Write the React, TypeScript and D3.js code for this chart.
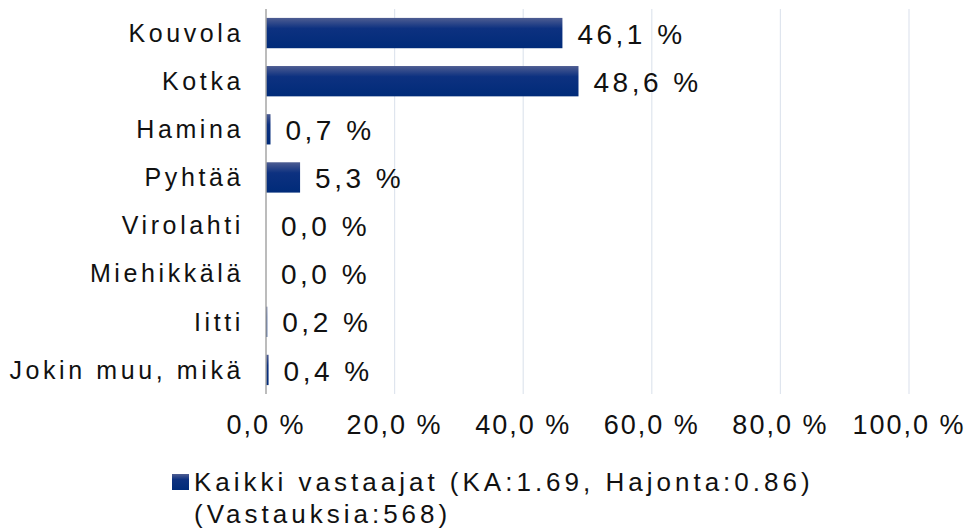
import { useEffect, useRef } from 'react';
import * as d3 from 'd3';

const categories = [
  "Kouvola", "Kotka", "Hamina", "Pyhtää", "Virolahti", "Miehikkälä", "Iitti", "Jokin muu, mikä"
];
const values = [46.1, 48.6, 0.7, 5.3, 0.0, 0.0, 0.2, 0.4];
const ticks = [0, 20, 40, 60, 80, 100];
const legendLines = ["Kaikki vastaajat (KA:1.69, Hajonta:0.86)", "(Vastauksia:568)"];

const fmt = (v: number) => v.toFixed(1).replace(".", ",") + " %";

const App = () => {
  const svgRef = useRef<SVGSVGElement>(null);

  useEffect(() => {
    const svg = d3.select(svgRef.current);
    svg.selectAll("*").remove();

    const width = 967;
    const margin = { top: 9, bottom: 136, left: 266, right: 58 };
    const height = 530;
    const font = "'Liberation Sans', Arial, sans-serif";

    const x = d3.scaleLinear().domain([0, 100]).range([margin.left, width - margin.right]);
    const y = d3.scaleBand()
      .domain(categories)
      .range([margin.top, height - margin.bottom])
      .paddingInner(0.37)
      .paddingOuter(0.185);

    const defs = svg.append("defs");
    const grad = defs.append("linearGradient")
      .attr("id", "barGrad")
      .attr("x1", 0).attr("y1", 0).attr("x2", 0).attr("y2", 1);
    grad.append("stop").attr("offset", "0%").attr("stop-color", "#4e5d92");
    grad.append("stop").attr("offset", "35%").attr("stop-color", "#0d3180");
    grad.append("stop").attr("offset", "100%").attr("stop-color", "#002b79");

    // grid
    svg.append("g")
      .selectAll("line")
      .data(ticks.slice(1))
      .join("line")
      .attr("x1", d => x(d)).attr("x2", d => x(d))
      .attr("y1", margin.top).attr("y2", height - margin.bottom)
      .attr("stroke", "#dfe5ee")
      .attr("stroke-width", 1.2);

    // bars
    svg.append("g")
      .selectAll("rect")
      .data(values)
      .join("rect")
      .attr("x", x(0))
      .attr("y", (d, i) => y(categories[i])!)
      .attr("width", d => x(d) - x(0))
      .attr("height", y.bandwidth())
      .attr("fill", "url(#barGrad)");

    // axis line
    svg.append("line")
      .attr("x1", x(0)).attr("x2", x(0))
      .attr("y1", margin.top).attr("y2", height - margin.bottom)
      .attr("stroke", "#a6a6a6")
      .attr("stroke-width", 1.5);

    // category labels
    svg.append("g")
      .selectAll("text")
      .data(categories)
      .join("text")
      .attr("x", x(0) - 22)
      .attr("y", d => y(d)! + y.bandwidth() / 2)
      .attr("dy", "0.35em")
      .attr("text-anchor", "end")
      .style("font-family", font)
      .style("font-size", "25px")
      .style("letter-spacing", "3.6px")
      .attr("fill", "#111")
      .text(d => d);

    // value labels
    svg.append("g")
      .selectAll("text")
      .data(values)
      .join("text")
      .attr("x", d => x(d) + 15)
      .attr("y", (d, i) => y(categories[i])! + y.bandwidth() / 2)
      .attr("dy", "0.38em")
      .style("font-family", font)
      .style("font-size", "28px")
      .style("letter-spacing", "3.5px")
      .attr("fill", "#111")
      .text(d => fmt(d));

    // tick labels
    svg.append("g")
      .selectAll("text")
      .data(ticks)
      .join("text")
      .attr("x", d => x(d))
      .attr("y", 434)
      .attr("text-anchor", "middle")
      .style("font-family", font)
      .style("font-size", "27px")
      .style("letter-spacing", "2px")
      .attr("fill", "#111")
      .text(d => fmt(d));

    // legend
    const legend = svg.append("g");
    legend.append("rect")
      .attr("x", 172).attr("y", 474)
      .attr("width", 17).attr("height", 16)
      .attr("fill", "url(#barGrad)");
    legend.selectAll("text")
      .data(legendLines)
      .join("text")
      .attr("x", 194)
      .attr("y", (d, i) => 491 + i * 32)
      .style("font-family", font)
      .style("font-size", "26px")
      .style("letter-spacing", "4px")
      .attr("fill", "#111")
      .text(d => d);
  }, []);

  return (
    <svg
      ref={svgRef}
      width={967}
      height={530}
      style={{ position: "absolute", left: 0, top: 0, background: "#fff" }}
    />
  );
};

export default App;
